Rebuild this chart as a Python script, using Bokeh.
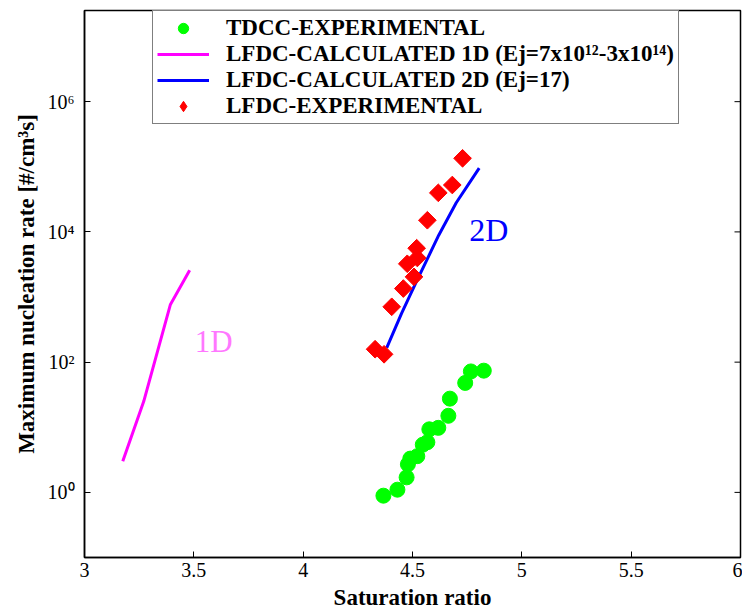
from bokeh.plotting import figure
from bokeh.models import (Range1d, FixedTicker, CustomJSTickFormatter,
                          Legend, LegendItem, Label)
from bokeh.embed import file_html
from bokeh.resources import INLINE

# ---------------- data ----------------
tdcc_s = [4.367, 4.431, 4.473, 4.479, 4.490, 4.522, 4.547, 4.568, 4.577, 4.618,
          4.664, 4.671, 4.741, 4.767, 4.826]
tdcc_j = [0.89, 1.1, 1.7, 2.7, 3.3, 3.6, 5.4, 5.9, 9.3, 9.8,
          15.0, 27.5, 48.0, 72.0, 74.0]

lfdc_s = [4.329, 4.370, 4.405, 4.458, 4.476, 4.507, 4.519, 4.522, 4.568, 4.618, 4.682, 4.729]
lfdc_j = [158, 132, 708, 1350, 3240, 2040, 5620, 3980, 15100, 39800, 52500, 135000]

calc1d_s = [3.175, 3.271, 3.393, 3.481]
calc1d_j = [3.0, 25.0, 770.0, 2570.0]

calc2d_s = [4.382, 4.450, 4.520, 4.620, 4.700, 4.805]
calc2d_j = [166, 560, 1780, 8900, 28000, 95500]

x_ticks = [3, 3.5, 4, 4.5, 5, 5.5, 6]
y_ticks = [1, 1e2, 1e4, 1e6]

legend_labels = ["TDCC-EXPERIMENTAL",
                 "LFDC-CALCULATED 1D (Ej=7x10\u00b9\u00b2-3x10\u00b9\u2074)",
                 "LFDC-CALCULATED 2D (Ej=17)",
                 "LFDC-EXPERIMENTAL"]

SERIF = "Liberation Serif"
X0, X1 = 3.0, 6.0
Y0, Y1 = 10 ** -1.0, 10 ** 7.4
FW, FH = 656, 547

p = figure(frame_width=FW, frame_height=FH, y_axis_type="log",
           x_range=Range1d(X0, X1), y_range=Range1d(Y0, Y1),
           output_backend="svg", toolbar_location=None,
           min_border_left=84, min_border_right=2, min_border_top=10, min_border_bottom=54)
p.xgrid.visible = False
p.ygrid.visible = False
p.outline_line_color = "black"
p.outline_line_width = 1.5
p.background_fill_color = "white"
p.border_fill_color = "white"

r_tdcc = p.scatter(tdcc_s, tdcc_j, marker="circle", size=15, fill_color="#00ff00",
                   line_color="#00ff00")
r_1d = p.line(calc1d_s, calc1d_j, line_color="#ff00ff", line_width=3)
r_2d = p.line(calc2d_s, calc2d_j, line_color="#0000ff", line_width=3)
# diamond-marker renderer (used for the legend swatch), covered by the turned squares
r_lfdc_key = p.scatter(lfdc_s, lfdc_j, marker="diamond", size=12,
                       fill_color="#ff0000", line_color="#ff0000")
# data diamonds: a square turned by 45 degrees
p.scatter(lfdc_s, lfdc_j, marker="square", angle=0.785398, size=12.5,
          fill_color="#ff0000", line_color="#ff0000")

# mirrored inward ticks on top and right edges (tick length 6 px)
tick_px = 6
dx = (X1 - X0) * tick_px / FW
ylog_span = 8.4
fy = 10 ** (-ylog_span * tick_px / FH)
p.segment(x0=x_ticks, y0=[Y1] * len(x_ticks), x1=x_ticks, y1=[Y1 * fy] * len(x_ticks),
          line_color="black", line_width=1)
p.segment(x0=[X1] * len(y_ticks), y0=y_ticks, x1=[X1 - dx] * len(y_ticks), y1=y_ticks,
          line_color="black", line_width=1)

sup_js = """
const sup = {'0':'\u2070','1':'\u00b9','2':'\u00b2','3':'\u00b3','4':'\u2074','5':'\u2075','6':'\u2076','7':'\u2077','8':'\u2078','9':'\u2079','-':'\u207b'};
const e = Math.round(Math.log10(tick));
return '10' + String(e).split('').map(c => sup[c]).join('');
"""

def style_axis(ax):
    ax.axis_line_color = "black"
    ax.axis_line_width = 1.5
    ax.major_tick_in = 6
    ax.major_tick_out = 0
    ax.minor_tick_in = 0
    ax.minor_tick_out = 0
    ax.major_tick_line_color = "black"
    ax.major_tick_line_width = 1
    ax.major_label_text_font = SERIF
    ax.major_label_text_font_size = "20px"
    ax.major_label_text_color = "black"
    ax.axis_label_text_font = SERIF
    ax.axis_label_text_font_style = "bold"
    ax.axis_label_text_font_size = "23px"
    ax.axis_label_text_color = "black"

xa = p.xaxis[0]
xa.ticker = FixedTicker(ticks=x_ticks, minor_ticks=[])
xa.axis_label = "Saturation ratio"
xa.major_label_standoff = 5
xa.axis_label_standoff = 5
style_axis(xa)

ya = p.yaxis[0]
ya.ticker = FixedTicker(ticks=y_ticks, minor_ticks=[])
ya.formatter = CustomJSTickFormatter(code=sup_js)
ya.axis_label = "Maximum nucleation rate [#/cm\u00b3s]"
ya.major_label_standoff = 10
ya.axis_label_standoff = 6
style_axis(ya)

p.add_layout(Label(x=3.591, y=210, text="1D", text_align="center", text_baseline="alphabetic",
                   text_font=SERIF, text_font_size="31px", text_color="#ff77ff"))
p.add_layout(Label(x=4.849, y=10700, text="2D", text_align="center", text_baseline="alphabetic",
                   text_font=SERIF, text_font_size="32px", text_color="#0000ff"))

legend = Legend(items=[LegendItem(label=legend_labels[0], renderers=[r_tdcc]),
                       LegendItem(label=legend_labels[1], renderers=[r_1d]),
                       LegendItem(label=legend_labels[2], renderers=[r_2d]),
                       LegendItem(label=legend_labels[3], renderers=[r_lfdc_key])],
                location=(68, 433), margin=0, padding=4, spacing=0,
                glyph_width=52, glyph_height=26, label_height=26, label_standoff=17,
                label_text_font=SERIF, label_text_font_style="bold",
                label_text_font_size="23px", label_text_color="black",
                border_line_color="black", border_line_width=1.5,
                background_fill_color="white", background_fill_alpha=1.0)
p.add_layout(legend, "center")

open("out.html", "w").write(file_html(p, INLINE))
